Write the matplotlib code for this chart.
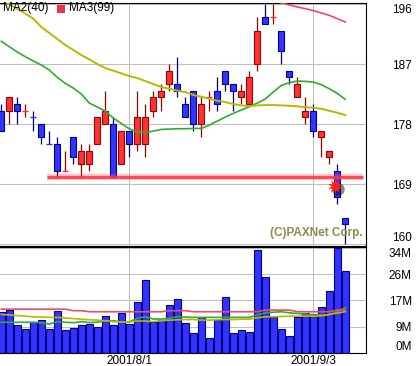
import numpy as np
import matplotlib.pyplot as plt
from matplotlib.patches import Rectangle

# daily candles (price in 1000 won)
opens = [180, 180, 181, 180, 179, 178, 175, 175, 171, 176, 172, 172, 175, 178, 178, 172, 177, 175, 175, 180, 182, 184,
         184, 181, 183, 178, 182, 183, 186, 184, 182, 181, 187, 194, 194, 192, 186, 182, 179, 180, 176, 173, 171, 164]
highs = [181, 182, 182, 181, 180, 178, 177, 176, 174, 176, 175, 175, 179, 183, 179, 177, 177, 183, 181, 183, 184, 187,
         188, 182, 183, 182, 183, 185, 186, 184, 184, 186, 194, 196, 196, 192, 186, 185, 182, 181, 177, 174, 172, 164]
lows = [177, 178, 178, 179, 177, 175, 175, 170, 171, 172, 170, 171, 175, 178, 170, 172, 173, 174, 173, 179, 180, 183,
        182, 179, 177, 176, 180, 180, 183, 180, 181, 181, 186, 193, 193, 187, 184, 182, 178, 176, 173, 172, 166, 160]
closes = [177, 182, 180, 180, 179, 176, 175, 171, 171, 173, 174, 174, 179, 180, 170, 177, 175, 179, 179, 182, 183, 186,
          183, 179, 178, 181, 182, 181, 184, 183, 183, 185, 192, 193, 194, 189, 185, 184, 180, 177, 177, 174, 167, 163]

# price moving averages
ma1 = [190.4, 189.6, 188.8, 188.1, 187.45, 186.85, 186.1, 185.0, 184.1, 183.4, 182.5, 181.15, 180.55, 179.95, 178.9,
       178.1, 177.3, 176.8, 176.7, 176.95, 177.2, 177.25, 177.3, 177.3, 177.35, 177.35, 177.85, 178.45, 179.05, 179.6,
       180.1, 180.6, 181.15, 181.75, 182.8, 183.8, 184.2, 184.45, 184.4, 184.3, 183.9, 183.3, 182.6, 181.7]
ma2 = [196.7, 196.0, 195.25, 194.55, 193.8, 192.55, 191.65, 190.75, 189.85, 189.1, 188.35, 187.7, 187.0, 186.4, 186.0,
       185.6, 185.2, 184.9, 184.45, 184.0, 183.55, 183.3, 183.0, 182.8, 182.35, 182.1, 181.8, 181.5, 181.3, 181.0,
       180.8, 180.7, 180.8, 180.85, 180.85, 180.8, 180.75, 180.65, 180.55, 180.45, 180.3, 180.0, 179.7, 179.35]
ma3 = [np.nan] * 33 + [196.75, 196.45, 196.15, 195.85, 195.55, 195.3, 195.0, 194.65, 194.3, 193.8, 193.3]

# volume (millions) and its moving averages
volume = [13.5, 14.1, 9.1, 7.8, 10.2, 10.9, 7.8, 13.7, 7.4, 8.1, 9.1, 9.4, 8.4, 12.0, 9.1, 13.1, 9.4, 16.6, 23.9, 10.1,
          10.7, 15.6, 17.6, 9.7, 6.5, 11.6, 4.8, 10.7, 18.2, 6.5, 7.4, 6.8, 33.6, 24.8, 11.7, 7.8, 5.5, 11.8, 13.1, 12.7,
          15.0, 20.2, 34.4, 26.8]
vma1 = [10.0, 10.0, 10.0, 10.0, 10.0, 9.85, 9.4, 10.2, 10.0, 9.85, 10.2, 9.9, 10.0, 10.5, 10.5, 10.1, 10.1, 11.3, 11.8,
        11.05, 11.05, 11.3, 11.8, 11.7, 11.6, 11.6, 11.6, 11.6, 11.6, 11.6, 11.6, 11.6, 12.4, 13.1, 13.3, 13.45, 13.1,
        12.9, 12.7, 12.4, 12.4, 12.4, 13.45, 14.8]
vma2 = [12.6, 12.4, 12.2, 12.0, 11.8, 11.7, 11.6, 11.6, 11.4, 11.2, 11.0, 10.8, 10.7, 10.5, 10.2, 10.1, 10.1, 10.4, 10.4,
        10.2, 10.5, 10.7, 10.8, 10.9, 10.9, 10.7, 10.7, 10.8, 10.9, 10.9, 11.0, 11.0, 11.5, 11.8, 11.8, 11.9, 12.0,
        12.0, 12.0, 12.0, 12.1, 12.6, 13.0, 13.5]
vma3 = [14.3, 14.3, 14.3, 14.3, 14.3, 14.3, 14.3, 14.3, 14.3, 13.8, 13.8, 13.45, 13.45, 13.45, 13.45, 13.45, 13.45,
        13.45, 13.45, 13.45, 13.45, 13.8, 13.8, 13.8, 13.45, 13.45, 13.45, 13.45, 13.45, 13.45, 13.45, 13.45, 13.45,
        14.0, 14.0, 14.0, 14.0, 13.45, 13.45, 13.45, 13.45, 13.45, 14.0, 14.0]

price_ticks = [160, 169, 178, 187, 196]
vol_ticks = [0, 8.6, 17.2, 25.8, 34.4]
vol_labels = ["0M", "9M", "17M", "26M", "34M"]
date_pos = [16, 39]
date_labels = ["2001/8/1", "2001/9/3"]

# support line and marker
support = 170
support_from, support_to = 5.7, 45.2
mark_x, mark_y = 41.7, 168.7

plt.rcParams['font.family'] = ['Liberation Sans', 'DejaVu Sans']
FS = 8.5

W, H = 419, 366
fig = plt.figure(figsize=(W / 100, H / 100), dpi=100)
ax = fig.add_axes([0, (H - 246.2) / H, 366 / W, 242.9 / H])
axv = fig.add_axes([0, (H - 352.7) / H, 366 / W, 105.5 / H])

x = np.arange(len(opens))
o = np.array(opens)
c = np.array(closes)
prev = np.r_[c[0], c[:-1]]
up = (c > o) | ((c == o) & (c >= prev))
doji = c == o

RED, DRED = '#ff3333', '#990000'
BLUE, DBLUE = '#3333ff', '#000080'

for a in (ax, axv):
    a.set_xlim(-0.1625, 45.59)
    a.set_facecolor('white')
    for s in ['top', 'right', 'bottom']:
        a.spines[s].set_linewidth(0.8)
        a.spines[s].set_color('black')
    a.spines['left'].set_visible(False)
    a.set_axisbelow(True)
    a.grid(True, color='#c0c0c0', linewidth=0.75)
    a.yaxis.tick_right()
    a.tick_params(axis='both', length=0, labelsize=FS)
    a.set_xticks(date_pos)

# candles
ax.vlines(x[up], np.array(lows)[up], np.array(highs)[up], color=DRED, linewidth=0.9, zorder=2)
ax.vlines(x[~up], np.array(lows)[~up], np.array(highs)[~up], color=DBLUE, linewidth=0.9, zorder=2)
body = ~doji
ax.bar(x[body & up], (c - o)[body & up], bottom=o[body & up], width=0.76,
       color=RED, edgecolor=DRED, linewidth=0.8, zorder=3)
ax.bar(x[body & ~up], (o - c)[body & ~up], bottom=c[body & ~up], width=0.76,
       color=BLUE, edgecolor=DBLUE, linewidth=0.8, zorder=3)
ax.hlines(c[doji & up], x[doji & up] - 0.38, x[doji & up] + 0.38, color=RED, linewidth=1, zorder=3)
ax.hlines(c[doji & ~up], x[doji & ~up] - 0.38, x[doji & ~up] + 0.38, color=BLUE, linewidth=1, zorder=3)

ax.plot(x, ma1, color='#33aa33', linewidth=1.2, zorder=4)
ax.plot(x, ma2, color='#b8b800', linewidth=1.4, zorder=4)
ax.plot(x, ma3, color='#f04a66', linewidth=1.2, zorder=4)

# support line with a soft glow
ax.hlines(support, support_from, support_to, color='#ff5566', linewidth=4.5, alpha=0.35, zorder=5)
ax.hlines(support, support_from, support_to, color='#ff3344', linewidth=2.2, alpha=0.85, zorder=5)
ax.plot(mark_x + 0.35, mark_y - 0.45, 'o', color='black', markersize=9, alpha=0.45, markeredgewidth=0, zorder=6)
ax.plot(mark_x, mark_y, marker=(10, 1, 0), color='#ff2020', markersize=11, markeredgewidth=0, zorder=7)

ax.set_ylim(159.7, 196.1)
ax.set_yticks(price_ticks)
ax.set_xticklabels([])

ax.text(0.992, 0.03, "(C)PAXNet Corp.", transform=ax.transAxes, ha='right', va='bottom',
        fontsize=FS, fontweight='bold', color='#8c8c50', zorder=8)

# volume
axv.bar(x, volume, width=0.82, color=BLUE, edgecolor=DBLUE, linewidth=0.8, zorder=2)
axv.plot(x, vma1, color='#33aa33', linewidth=1.2, zorder=3)
axv.plot(x, vma2, color='#b8b800', linewidth=1.2, zorder=3)
axv.plot(x, vma3, color='#f04a66', linewidth=1.2, zorder=3)
axv.set_ylim(0, 34.65)
axv.set_yticks(vol_ticks)
axv.set_yticklabels(vol_labels)
axv.set_xticklabels(date_labels)
axv.tick_params(axis='x', pad=1.5)

# right-aligned labels, the ones at the panel edges pulled inside
for a in (ax, axv):
    a.tick_params(axis='y', pad=33)
    labs = a.get_yticklabels()
    for lab in labs:
        lab.set_horizontalalignment('right')
    labs[0].set_verticalalignment('bottom')
    labs[-1].set_verticalalignment('top')

# legend at top left
fig.text(3.3 / W, (H - 8.5) / H, "MA2(40)", fontsize=FS, va='center', ha='left')
fig.add_artist(Rectangle((57 / W, (H - 12.7) / H), 7.5 / W, 7.5 / H, transform=fig.transFigure,
                         facecolor='#e8344f', edgecolor='none'))
fig.text(69 / W, (H - 8.5) / H, "MA3(99)", fontsize=FS, va='center', ha='left')

fig.savefig("out.png", dpi=100)
